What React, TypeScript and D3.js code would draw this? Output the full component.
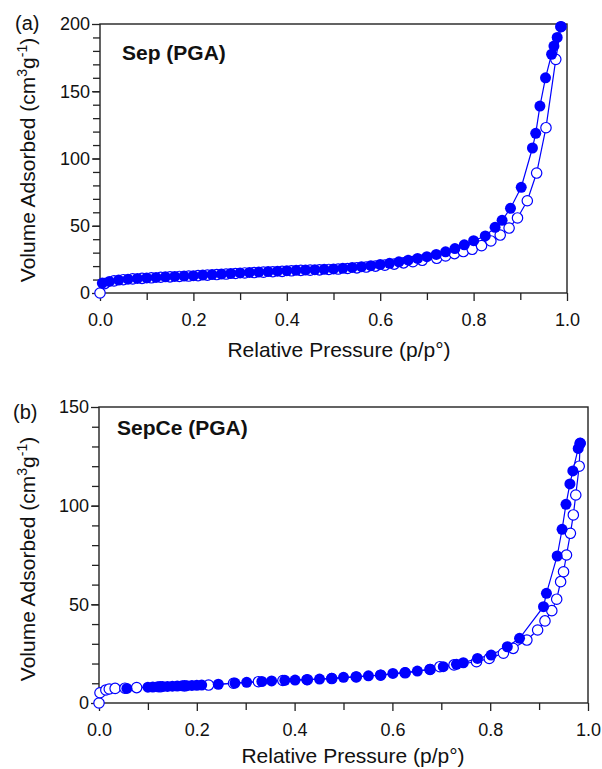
import * as d3 from 'd3';
import { useEffect, useRef } from 'react';

// Panel (a) Sep (PGA): [p/p0, volume]
const sepDesorption: [number, number][] = [
    [0.005, 7.4], [0.02, 8.6], [0.04, 9.6], [0.06, 10.3], [0.08, 10.8], [0.10, 11.2], [0.12, 11.6],
    [0.14, 12.0], [0.16, 12.3], [0.18, 12.6], [0.20, 12.9], [0.22, 13.3], [0.24, 13.7], [0.26, 14.1],
    [0.28, 14.5], [0.30, 14.9], [0.32, 15.3], [0.34, 15.6], [0.36, 15.9], [0.38, 16.2], [0.40, 16.6],
    [0.42, 16.9], [0.44, 17.1], [0.46, 17.3], [0.48, 17.6], [0.50, 17.9], [0.52, 18.4], [0.54, 19.0],
    [0.56, 19.6], [0.58, 20.3], [0.60, 21.2], [0.62, 22.1], [0.64, 23.2], [0.66, 24.4], [0.68, 25.7],
    [0.70, 27.0], [0.72, 28.7], [0.74, 30.6], [0.76, 33.0], [0.78, 35.8], [0.80, 38.9], [0.825, 42.4],
    [0.846, 48.8], [0.861, 54.0], [0.879, 63.0], [0.902, 78.6], [0.926, 107.8], [0.933, 118.7],
    [0.942, 139.0], [0.954, 160.0], [0.967, 177.5], [0.972, 183.6], [0.979, 190.0], [0.987, 198.0],
];
const sepAdsorption: [number, number][] = [
    [0.0, 0], [0.01, 7.0], [0.03, 9.0], [0.05, 9.9], [0.07, 10.5], [0.09, 10.9], [0.11, 11.3],
    [0.13, 11.7], [0.15, 12.0], [0.17, 12.3], [0.19, 12.6], [0.21, 12.9], [0.23, 13.3], [0.25, 13.7],
    [0.27, 14.1], [0.29, 14.5], [0.31, 14.9], [0.33, 15.2], [0.35, 15.5], [0.37, 15.8], [0.39, 16.1],
    [0.41, 16.5], [0.43, 16.8], [0.45, 17.0], [0.47, 17.2], [0.49, 17.5], [0.51, 17.8], [0.53, 18.2],
    [0.55, 18.7], [0.57, 19.3], [0.59, 20.0], [0.61, 20.7], [0.63, 21.5], [0.65, 22.4], [0.67, 23.3],
    [0.69, 24.3], [0.721, 25.8], [0.740, 27.5], [0.759, 29.3], [0.778, 30.8], [0.797, 32.5],
    [0.817, 35.2], [0.837, 38.7], [0.857, 43.1], [0.876, 48.3], [0.894, 55.8], [0.915, 68.6],
    [0.935, 89.2], [0.955, 122.9], [0.976, 173.7], [0.987, 198.0],
];

// Panel (b) SepCe (PGA)
const sepCeDesorption: [number, number][] = [
    [0.057, 7.4], [0.10, 8.0], [0.11, 8.1], [0.12, 8.2], [0.13, 8.3], [0.14, 8.4], [0.15, 8.5],
    [0.16, 8.6], [0.17, 8.7], [0.18, 8.8], [0.19, 8.9], [0.20, 9.0], [0.21, 9.1], [0.244, 9.5],
    [0.278, 10.1], [0.302, 10.5], [0.333, 10.9], [0.353, 11.2], [0.380, 11.5], [0.401, 11.6],
    [0.425, 11.8], [0.451, 12.1], [0.476, 12.5], [0.500, 13.0], [0.526, 13.3], [0.551, 13.8],
    [0.576, 14.2], [0.601, 15.0], [0.626, 15.4], [0.651, 16.2], [0.677, 17.1], [0.704, 18.4],
    [0.731, 19.6], [0.745, 20.4], [0.774, 22.6], [0.802, 24.3], [0.835, 28.5], [0.860, 32.8],
    [0.909, 48.8], [0.915, 55.6], [0.937, 74.5], [0.947, 88.0], [0.955, 100.7], [0.963, 111.0],
    [0.969, 117.6], [0.980, 129.0], [0.984, 131.6],
];
const sepCeAdsorption: [number, number][] = [
    [0.0, 0], [0.002, 5.2], [0.014, 6.6], [0.021, 7.1], [0.033, 7.4], [0.053, 7.5], [0.077, 7.8],
    [0.125, 8.2], [0.175, 8.7], [0.224, 9.1], [0.275, 10.0], [0.326, 10.8], [0.376, 11.4],
    [0.426, 11.8], [0.476, 12.4], [0.526, 13.2], [0.576, 14.1], [0.626, 15.3], [0.677, 17.0],
    [0.697, 18.4], [0.726, 19.3], [0.772, 20.9], [0.798, 22.6], [0.827, 25.2], [0.847, 27.7],
    [0.875, 31.9], [0.897, 37.0], [0.912, 41.6], [0.926, 46.8], [0.936, 52.6], [0.944, 61.5],
    [0.950, 66.5], [0.956, 75.0], [0.964, 86.0], [0.970, 95.3], [0.975, 105.4], [0.982, 120.0],
    [0.984, 131.6],
];

const xMajorTicks = [0, 0.2, 0.4, 0.6, 0.8, 1.0];
const xMinorTicks = [0.1, 0.3, 0.5, 0.7, 0.9];

const App = () => {
    const ref = useRef<SVGSVGElement>(null);

    useEffect(() => {
        const svg = d3.select(ref.current);
        svg.selectAll('*').remove();

        const font = 'Arial, "Liberation Sans", sans-serif';
        const blue = '#0000ff';
        const axisColor = '#222';

        const drawPanel = (cfg: any) => {
            const x = d3.scaleLinear().domain([0, 1]).range([cfg.left, cfg.right]);
            const y = d3.scaleLinear().domain([0, cfg.yMax]).range([cfg.bottom, cfg.top]);
            const g = svg.append('g');

            // minor ticks
            const yMinor = g.append('g')
                .attr('transform', `translate(${cfg.left},0)`)
                .call(d3.axisLeft(y).tickValues(d3.range(10, cfg.yMax, 10)).tickSize(7).tickFormat(() => ''));
            const xMinor = g.append('g')
                .attr('transform', `translate(0,${cfg.bottom})`)
                .call(d3.axisBottom(x).tickValues(xMinorTicks).tickSize(7).tickFormat(() => ''));

            // major ticks
            const yAxisG = g.append('g')
                .attr('transform', `translate(${cfg.left},0)`)
                .call(d3.axisLeft(y).tickValues(d3.range(0, cfg.yMax + 1, 50)).tickSize(8).tickPadding(2).tickFormat(d3.format('d')));
            const xAxisG = g.append('g')
                .attr('transform', `translate(0,${cfg.bottom})`)
                .call(d3.axisBottom(x).tickValues(xMajorTicks).tickSize(8).tickPadding(12).tickFormat(d3.format('.1f')));

            [yMinor, xMinor, yAxisG, xAxisG].forEach((a) => {
                a.select('.domain').remove();
                a.selectAll('line').attr('stroke', axisColor).attr('stroke-width', 1.3);
                a.selectAll('text').style('font-size', '18px').style('font-family', font).attr('fill', '#111');
            });

            // frame
            g.append('rect')
                .attr('x', cfg.left)
                .attr('y', cfg.top)
                .attr('width', cfg.right - cfg.left)
                .attr('height', cfg.bottom - cfg.top)
                .attr('fill', 'none')
                .attr('stroke', axisColor)
                .attr('stroke-width', 1.4);

            const line = d3.line<[number, number]>()
                .x((d) => x(d[0]))
                .y((d) => y(d[1]));

            [cfg.ads, cfg.des].forEach((series) => {
                g.append('path')
                    .datum(series)
                    .attr('d', line)
                    .attr('fill', 'none')
                    .attr('stroke', blue)
                    .attr('stroke-width', 1.2);
            });

            // open circles (adsorption)
            g.selectAll('.open')
                .data(cfg.ads)
                .enter()
                .append('circle')
                .attr('cx', (d: any) => x(d[0]))
                .attr('cy', (d: any) => y(d[1]))
                .attr('r', 5.2)
                .attr('fill', '#fff')
                .attr('stroke', blue)
                .attr('stroke-width', 1.2);

            // filled circles (desorption)
            g.selectAll('.filled')
                .data(cfg.des)
                .enter()
                .append('circle')
                .attr('cx', (d: any) => x(d[0]))
                .attr('cy', (d: any) => y(d[1]))
                .attr('r', 5.5)
                .attr('fill', blue);

            // panel letter
            g.append('text')
                .attr('x', cfg.letterX)
                .attr('y', cfg.letterY)
                .style('font-size', '20px')
                .style('font-family', font)
                .attr('fill', '#111')
                .text(cfg.letter);

            // sample name
            g.append('text')
                .attr('x', cfg.nameX)
                .attr('y', cfg.nameY)
                .style('font-size', '21px')
                .style('font-weight', 'bold')
                .style('font-family', font)
                .attr('fill', '#111')
                .text(cfg.name);

            // x title
            g.append('text')
                .attr('x', cfg.xTitleX)
                .attr('y', cfg.xTitleY)
                .attr('text-anchor', 'middle')
                .style('font-size', '21px')
                .style('font-family', font)
                .attr('fill', '#111')
                .text('Relative Pressure (p/p°)');

            // y title
            const yt = g.append('text')
                .attr('transform', `translate(35,${cfg.yTitleY}) rotate(-90)`)
                .attr('text-anchor', 'middle')
                .style('font-size', '21px')
                .style('font-family', font)
                .attr('fill', '#111');
            yt.append('tspan').text('Volume Adsorbed (cm');
            yt.append('tspan').attr('dy', -8).style('font-size', '14px').text('3');
            yt.append('tspan').attr('dy', 8).text('g');
            yt.append('tspan').attr('dy', -8).style('font-size', '14px').text('-1');
            yt.append('tspan').attr('dy', 8).text(')');
        };

        drawPanel({
            left: 100, right: 567, top: 24, bottom: 293, yMax: 200,
            ads: sepAdsorption, des: sepDesorption,
            letter: '(a)', letterX: 15, letterY: 30,
            name: 'Sep (PGA)', nameX: 122, nameY: 60,
            xTitleX: 339, xTitleY: 357, yTitleY: 160,
        });

        drawPanel({
            left: 99, right: 588, top: 407, bottom: 703, yMax: 150,
            ads: sepCeAdsorption, des: sepCeDesorption,
            letter: '(b)', letterX: 13, letterY: 419,
            name: 'SepCe (PGA)', nameX: 117, nameY: 435,
            xTitleX: 353, xTitleY: 763, yTitleY: 559,
        });
    }, []);

    return (
        <svg
            ref={ref}
            width={602}
            height={769}
            style={{ position: 'absolute', left: 0, top: 0, background: '#fff' }}
        />
    );
};

export default App;
